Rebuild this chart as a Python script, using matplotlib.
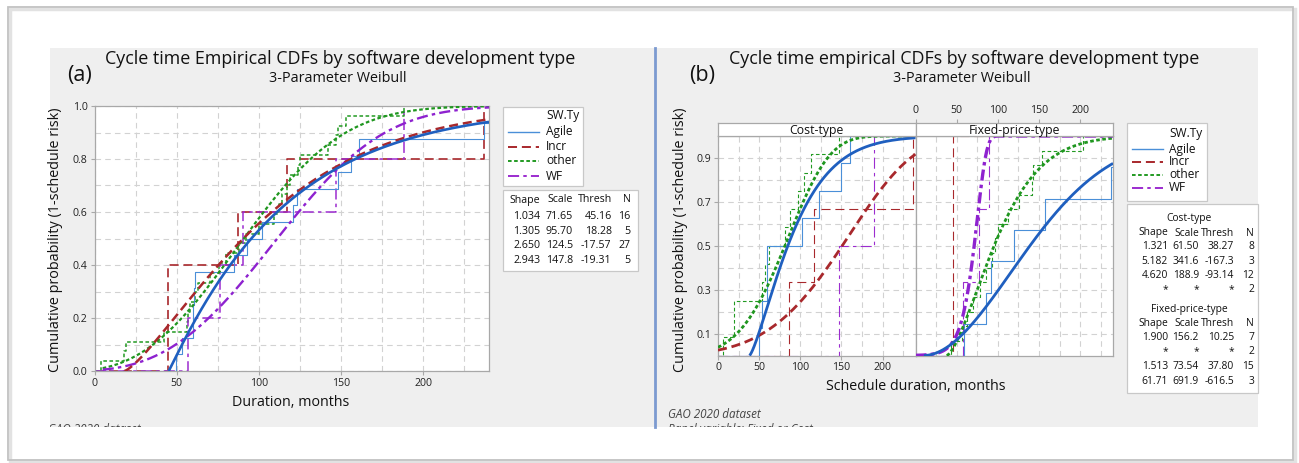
import numpy as np
import matplotlib
matplotlib.use("Agg")
import matplotlib.pyplot as plt
from matplotlib.patches import Rectangle

plt.rcParams["font.family"] = ["Open Sans", "DejaVu Sans"]
plt.rcParams["lines.scale_dashes"] = False
plt.rcParams["text.color"] = "#111111"

W, H = 1299, 463

# ---- data -------------------------------------------------------------
GROUPS = ["Agile", "Incr", "other", "WF"]
XMAX = 240

# panel (a): empirical points per group
agile_a = [49.7, 53, 60, 60, 60.5, 61, 85, 93, 102, 121, 123, 148, 156, 161, 237, 262]
incr_a = [44.5, 44.5, 87, 117, 237]
other_a = [4, 18, 19, 42, 56, 57, 58, 61, 63, 70, 76, 80, 88, 92, 100, 109, 112,
           114, 117, 119, 124, 125, 142, 147, 148, 153, 188]
wf_a = [56.6, 76.5, 90.2, 147, 188.3]

# panel (a) Weibull fits (shape, scale, thresh, N)
shape_a = [1.034, 1.305, 2.650, 2.943]
scale_a = [71.65, 95.70, 124.5, 147.8]
thresh_a = [45.16, 18.28, -17.57, -19.31]
n_a = [16, 5, 27, 5]

# panel (b), Cost-type
agile_c = [49.6, 53.7, 59.8, 59.8, 101.6, 122.8, 149, 161]
incr_c = [86, 116.7, 237]
other_c = [6, 19, 19, 54, 57, 62, 82, 88, 97, 104, 113, 147]
wf_c = [147, 190]
shape_c = [1.321, 5.182, 4.620, None]
scale_c = [61.50, 341.6, 188.9, None]
thresh_c = [38.27, -167.3, -93.14, None]
n_c = [8, 3, 12, 2]

# panel (b), Fixed-price-type
agile_f = [59.3, 85.8, 91.9, 120.3, 157, 237, 255]
incr_f = [45, 45]
other_f = [43, 57, 62, 70, 78, 86, 93, 97, 100, 112, 126, 141, 143, 154, 204]
wf_f = [57.3, 77.6, 89.8]
shape_f = [1.900, None, 1.513, 61.71]
scale_f = [156.2, None, 73.54, 691.9]
thresh_f = [10.25, None, 37.80, -616.5]
n_f = [7, 2, 15, 3]

# ---- styles -------------------------------------------------------------
COL = {"Agile": "#4a8fd8", "Incr": "#a8282c", "other": "#229a22", "WF": "#9c2ccf"}
FITCOL = {"Agile": "#1f5fbf", "Incr": "#a8282c", "other": "#1f961f", "WF": "#8e22cf"}
DASH = {"Agile": None, "Incr": (0, (6.5, 3.5)), "other": (0, (2.6, 1.8)),
        "WF": (0, (8, 3, 2.5, 3))}
GRIDC = "#d2d2d2"
SPINEC = "#a8a8a8"
BG = "#efefef"
TICKFS = 7.6


def ls(g):
    return "-" if DASH[g] is None else DASH[g]


def ecdf(ax, pts, g, lw, z):
    p = sorted(pts)
    n = len(p)
    xs = [0] + p + [max(XMAX + 20, p[-1] + 20)]
    ys = [0] + [(i + 1) / n for i in range(n)] + [1.0]
    ax.step(xs, ys, where="post", color=COL[g], lw=lw, ls=ls(g), zorder=z)


def fit(ax, shape, scale, thresh, g, x0, lw, z):
    if shape is None:
        return
    x = np.linspace(max(x0, thresh), XMAX, 500)
    z_ = np.clip((x - thresh) / scale, 0, None)
    y = 1 - np.exp(-z_ ** shape)
    ax.plot(x, y, color=FITCOL[g], lw=lw, ls=ls(g), zorder=z,
            solid_capstyle="butt", dash_capstyle="butt")


def px_axes(x0, y0, x1, y1):
    return fig.add_axes([x0 / W, 1 - y1 / H, (x1 - x0) / W, (y1 - y0) / H])


def style_axes(ax, yticks, ylabels):
    ax.set_xlim(0, XMAX)
    ax.set_ylim(0, 1)
    ax.set_facecolor("white")
    ax.set_xticks([0, 50, 100, 150, 200])
    ax.set_xticks(np.arange(25, 240, 25), minor=True)
    ax.set_yticks(yticks)
    ax.set_yticklabels(ylabels)
    ax.set_yticks(np.arange(0.1, 1.0, 0.1), minor=True)
    ax.grid(True, which="both", color=GRIDC, lw=0.8, ls=(0, (4, 3)), zorder=0)
    ax.set_axisbelow(True)
    for s in ax.spines.values():
        s.set_color(SPINEC)
        s.set_linewidth(0.9)
    ax.tick_params(which="major", length=3, width=0.8, color=SPINEC,
                   labelsize=TICKFS, pad=2, labelcolor="#222222")
    ax.tick_params(which="minor", length=0)


fig = plt.figure(figsize=(W / 100, H / 100), dpi=100)
fig.patch.set_facecolor("white")
cv = fig.add_axes([0, 0, 1, 1])
cv.set_xlim(0, W)
cv.set_ylim(H, 0)
cv.axis("off")

# page frame with a soft shadow
cv.add_patch(Rectangle((10, 9), 1285, 453, fill=False, ec="#e2e2e2", lw=2.5))
cv.add_patch(Rectangle((8, 7), 1285, 453, fill=False, ec="#c2c2c2", lw=1.3))

# grey graph windows and the divider
gray_a = Rectangle((50, 48), 605, 379, fc=BG, ec="none")
gray_b = Rectangle((655, 48), 603, 379, fc=BG, ec="none")
cv.add_patch(gray_a)
cv.add_patch(gray_b)
cv.plot([655, 655], [48, 427], color="#7c9ad0", lw=2)

# titles
cv.text(340, 59, "Cycle time Empirical CDFs by software development type",
        ha="center", va="center", fontsize=12.9)
cv.text(338, 78, "3-Parameter Weibull", ha="center", va="center", fontsize=10.4)
cv.text(80, 76, "(a)", ha="center", va="center", fontsize=15.5)
cv.text(964, 59, "Cycle time empirical CDFs by software development type",
        ha="center", va="center", fontsize=12.9)
cv.text(962, 78, "3-Parameter Weibull", ha="center", va="center", fontsize=10.4)
cv.text(702, 76, "(b)", ha="center", va="center", fontsize=15.5)

# axis labels
cv.text(56, 240, "Cumulative probability (1-schedule risk)", rotation=90,
        ha="center", va="center", fontsize=10.4)
cv.text(291, 403, "Duration, months", ha="center", va="center", fontsize=10.3)
cv.text(681, 240, "Cumulative probability (1-schedule risk)", rotation=90,
        ha="center", va="center", fontsize=10.4)
cv.text(916, 387, "Schedule duration, months", ha="center", va="center", fontsize=10.3)

# footnotes, clipped by the grey windows
t = cv.text(48, 423, "GAO 2020 dataset", ha="left", va="top", fontsize=8.4,
            style="italic", color="#444444", clip_on=True)
t.set_clip_path(gray_a)
cv.text(668, 414, "GAO 2020 dataset", ha="left", va="center", fontsize=8.4,
        style="italic", color="#444444")
t = cv.text(668, 423, "Panel variable: Fixed or Cost", ha="left", va="top",
            fontsize=8.4, style="italic", color="#444444", clip_on=True)
t.set_clip_path(gray_b)


def legend(x0, y0, x1, y1, title_y, ys, hx0, hx1, lx):
    cv.add_patch(Rectangle((x0, y0), x1 - x0, y1 - y0, fc="white",
                           ec="#c8c8c8", lw=0.9))
    cv.text(lx, title_y, "SW.Ty", ha="left", va="center", fontsize=8.6)
    for g, yy in zip(GROUPS, ys):
        cv.plot([hx0, hx1], [yy, yy], color=COL[g], ls=ls(g),
                lw=1.0 if g == "Agile" else 1.4)
        cv.text(lx, yy, g, ha="left", va="center", fontsize=8.6)


def table(x0, y0, x1, y1, rows, col_right, fs):
    cv.add_patch(Rectangle((x0, y0), x1 - x0, y1 - y0, fc="white",
                           ec="#c8c8c8", lw=0.9))
    for yy, cells in rows:
        if isinstance(cells, str):
            cv.text((x0 + x1) / 2 - 3, yy, cells, ha="center", va="center",
                    fontsize=fs)
            continue
        for xr, c in zip(col_right, cells):
            cv.text(xr, yy, c, ha="right", va="center", fontsize=fs)


def fmt_rows(shapes, scales, threshs, ns):
    out = []
    for s, sc, th, n in zip(shapes, scales, threshs, ns):
        if s is None:
            out.append(["*", "*", "*", str(n)])
        else:
            out.append([f"{s:.2f}" if s >= 10 else f"{s:.3f}",
                        f"{sc:.2f}" if sc < 100 else f"{sc:.1f}",
                        f"{th:.2f}" if abs(th) < 100 else f"{th:.1f}", str(n)])
    return out


HEAD = ["Shape", "Scale", "Thresh", "N"]

# ---- panel (a) ----------------------------------------------------------
ax = px_axes(94.5, 106, 489, 371)
style_axes(ax, [0, 0.2, 0.4, 0.6, 0.8, 1.0], ["0.0", "0.2", "0.4", "0.6", "0.8", "1.0"])
pts_a = [agile_a, incr_a, other_a, wf_a]
ecdf_w = {"Agile": 0.8, "Incr": 1.2, "other": 1.1, "WF": 1.1}
for g, p, zz in zip(GROUPS, pts_a, [3, 2, 2, 2.5]):
    ecdf(ax, p, g, ecdf_w[g], zz)
fit_w = {"Agile": 1.9, "Incr": 1.8, "other": 1.6, "WF": 1.7}
for g, s, sc, th, zz in zip(GROUPS, shape_a, scale_a, thresh_a, [6, 5, 4, 4.5]):
    fit(ax, s, sc, th, g, 5, fit_w[g], zz)

legend(503, 107, 583, 186, 116, [131.7, 146.7, 161, 176], 508, 539, 546)
rows = [(200, HEAD)] + list(zip([216.7, 231, 245.7, 260.7],
                                fmt_rows(shape_a, scale_a, thresh_a, n_a)))
table(503, 190, 638, 270.5, rows, [540.5, 573, 611.7, 630.5], 7.7)

# ---- panel (b) ----------------------------------------------------------
ax_c = px_axes(718, 136, 915.5, 355.5)
ax_f = px_axes(915.5, 136, 1113, 355.5)
b_ticks = [0.1, 0.3, 0.5, 0.7, 0.9]
style_axes(ax_c, b_ticks, [str(v) for v in b_ticks])
style_axes(ax_f, b_ticks, [])
ax_f.tick_params(which="major", left=False, bottom=False, labelbottom=False)

for axp, pts, shp, scl, ths in [
        (ax_c, [agile_c, incr_c, other_c, wf_c], shape_c, scale_c, thresh_c),
        (ax_f, [agile_f, incr_f, other_f, wf_f], shape_f, scale_f, thresh_f)]:
    for g, p, zz in zip(GROUPS, pts, [3, 2, 2, 2.5]):
        ecdf(axp, p, g, 0.8, zz)
    for g, s, sc, th, zz in zip(GROUPS, shp, scl, ths, [6, 5, 4, 4.5]):
        fit(axp, s, sc, th, g, 0, 2.0 if g != "WF" else 2.4, zz)

# strips
for x0, x1, lab, top in [(718, 915.5, "Cost-type", False),
                         (915.5, 1113, "Fixed-price-type", True)]:
    st = px_axes(x0, 123, x1, 136)
    st.set_facecolor("white")
    st.set_xlim(0, XMAX)
    st.set_ylim(0, 1)
    st.set_yticks([])
    for s in st.spines.values():
        s.set_color(SPINEC)
        s.set_linewidth(0.9)
    st.text(0.5, 0.45, lab, transform=st.transAxes, ha="center", va="center",
            fontsize=8.8)
    if top:
        st.xaxis.tick_top()
        st.set_xticks([0, 50, 100, 150, 200])
        st.tick_params(length=3, width=0.8, color=SPINEC, labelsize=TICKFS,
                       pad=2, labelcolor="#222222")
    else:
        st.set_xticks([])

legend(1127, 123, 1207, 201, 133, [149, 161.7, 175, 187.5], 1132, 1163, 1169)
rows_b = ([(218, "Cost-type"), (233, HEAD)]
          + list(zip([246.5, 261, 275.5, 290], fmt_rows(shape_c, scale_c, thresh_c, n_c)))
          + [(309.5, "Fixed-price-type"), (323.5, HEAD)]
          + list(zip([337.5, 352, 366.5, 381], fmt_rows(shape_f, scale_f, thresh_f, n_f))))
table(1127, 204, 1258, 392.5, rows_b, [1168, 1199, 1234, 1254], 7.4)

fig.savefig("out.png", dpi=100, facecolor="white")
